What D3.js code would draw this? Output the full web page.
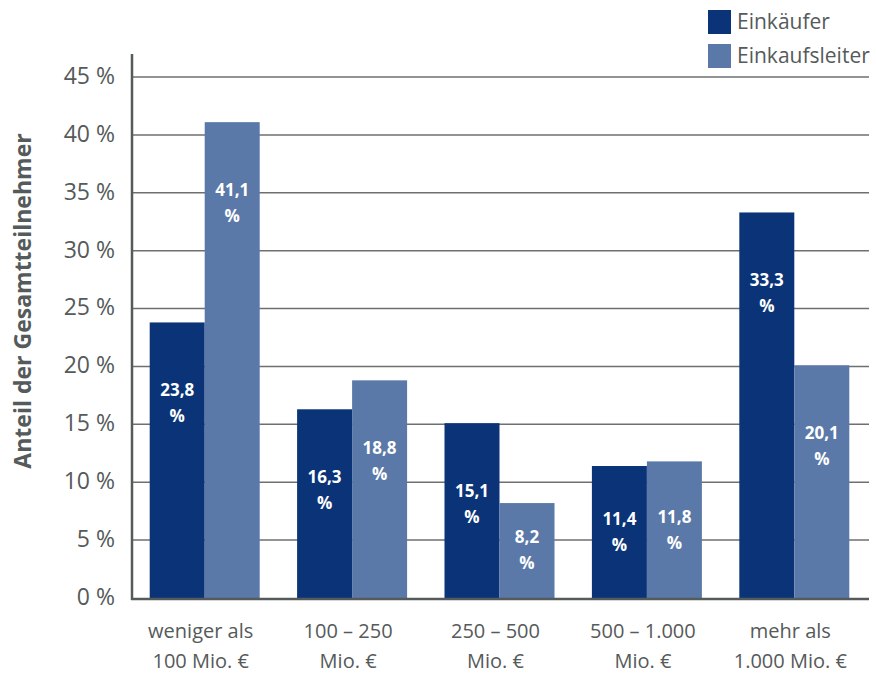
<!DOCTYPE html>
<html><head><meta charset="utf-8">
<script src="https://cdn.jsdelivr.net/npm/d3@7/dist/d3.min.js"></script>
<style>
html,body{margin:0;padding:0;background:#fff;}
svg{display:block;font-family:"Open Sans",sans-serif;}
</style></head>
<body>
<script>
const categoriesLine1 = ["weniger als", "100 – 250", "250 – 500", "500 – 1.000", "mehr als"];
const categoriesLine2 = ["100 Mio. €", "Mio. €", "Mio. €", "Mio. €", "1.000 Mio. €"];
const seriesNames = ["Einkäufer", "Einkaufsleiter"];
const einkaeufer = [23.8, 16.3, 15.1, 11.4, 33.3];
const einkaufsleiter = [41.1, 18.8, 8.2, 11.8, 20.1];
const yTicks = [0, 5, 10, 15, 20, 25, 30, 35, 40, 45];
const yTitle = "Anteil der Gesamtteilnehmer";

const W = 876, H = 676;
const colors = ["#0a3477", "#5b79a8"];
const textGrey = "#555a5a";

const svg = d3.select("body").append("svg").attr("width", W).attr("height", H);

const x = d3.scaleBand().domain(d3.range(categoriesLine1.length)).range([131, 868]).padding(0);
const y = d3.scaleLinear().domain([0, 45]).range([598, 77]);
const barW = 55;

// gridlines
svg.append("g").selectAll("line").data(yTicks.filter(t => t > 0)).join("line")
  .attr("x1", 132).attr("x2", 869)
  .attr("y1", d => y(d)).attr("y2", d => y(d))
  .attr("stroke", "#6e7070").attr("stroke-width", 1.5);

// y tick labels
svg.append("g").selectAll("text").data(yTicks).join("text")
  .attr("x", 115).attr("y", d => y(d)).attr("dy", "0.3em")
  .attr("text-anchor", "end").attr("fill", textGrey)
  .style("font-size", "23px")
  .text(d => d + " %");

// bars
const series = [einkaeufer, einkaufsleiter];
series.forEach((vals, s) => {
  const g = svg.append("g");
  g.selectAll("rect").data(vals).join("rect")
    .attr("x", (d, i) => x(i) + x.bandwidth() / 2 - barW + s * barW)
    .attr("width", barW)
    .attr("y", d => y(d))
    .attr("height", d => y(0) - y(d))
    .attr("fill", colors[s]);
  const lbl = g.selectAll("text").data(vals).join("text")
    .attr("text-anchor", "middle").attr("fill", "#fff")
    .style("font-size", "17px").style("font-weight", "700");
  lbl.each(function(d, i) {
    const cx = x(i) + x.bandwidth() / 2 - barW / 2 + s * barW;
    const h = y(0) - y(d);
    const cy = y(d) + Math.min(68, h / 2 - 13);
    const t = d3.select(this);
    t.append("tspan").attr("x", cx).attr("y", cy).attr("dy", "0.35em").text(d3.format(".1f")(d).replace(".", ","));
    t.append("tspan").attr("x", cx).attr("y", cy + 26).attr("dy", "0.35em").text("%");
  });
});

// axes lines
svg.append("line").attr("x1", 132).attr("x2", 132).attr("y1", 54).attr("y2", 600)
  .attr("stroke", "#555a5a").attr("stroke-width", 2.5);
svg.append("line").attr("x1", 131).attr("x2", 869).attr("y1", y(0) + 1).attr("y2", y(0) + 1)
  .attr("stroke", "#555a5a").attr("stroke-width", 2.5);

// category labels
const cat = svg.append("g").selectAll("text").data(categoriesLine1).join("text")
  .attr("text-anchor", "middle").attr("fill", textGrey).style("font-size", "20px");
cat.each(function(d, i) {
  const cx = x(i) + x.bandwidth() / 2 - 4;
  const t = d3.select(this);
  t.append("tspan").attr("x", cx).attr("y", 638).text(d);
  t.append("tspan").attr("x", cx).attr("y", 668).text(categoriesLine2[i]);
});

// y title
svg.append("text")
  .attr("transform", "translate(31,301) rotate(-90)")
  .attr("text-anchor", "middle").attr("fill", textGrey)
  .style("font-size", "23px").style("font-weight", "700")
  .text(yTitle);

// legend
const leg = svg.append("g").selectAll("g").data(seriesNames).join("g")
  .attr("transform", (d, i) => `translate(708,${10 + i * 34})`);
leg.append("rect").attr("width", 23).attr("height", 24).attr("fill", (d, i) => colors[i]);
leg.append("text").attr("x", 29).attr("y", 12).attr("dy", "0.35em")
  .attr("fill", textGrey).style("font-size", "21px").text(d => d);
</script>
</body></html>
